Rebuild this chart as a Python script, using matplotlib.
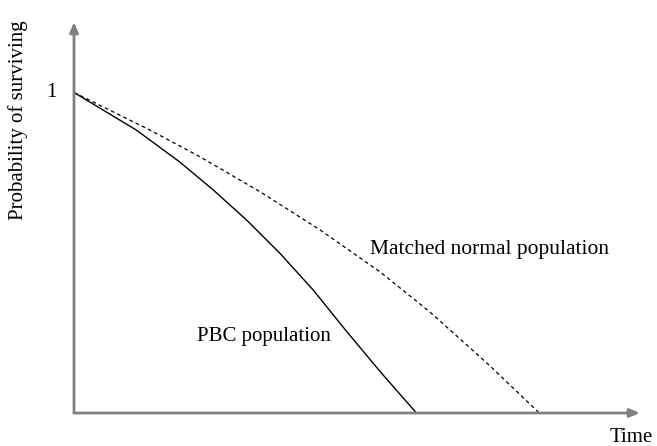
import matplotlib
matplotlib.use("Agg")
import matplotlib.pyplot as plt

plt.rcParams.update({
    'font.family': 'Liberation Serif',
})

# survival curves (time in arbitrary units, prob 0..1)
pbc_time = [0.0, 1.10, 1.87, 2.46, 3.05, 3.64, 4.22, 4.81, 5.41, 6.05]
pbc_prob = [1.0, 0.883, 0.783, 0.696, 0.602, 0.498, 0.385, 0.256, 0.129, 0.0]

normal_time = [0.0, 1.34, 2.23, 3.29, 4.35, 5.41, 6.29, 7.35, 8.22]
normal_prob = [1.0, 0.883, 0.799, 0.690, 0.571, 0.440, 0.315, 0.147, 0.0]

W, H = 657, 446
fig = plt.figure(figsize=(W / 100, H / 100), dpi=100)
# axes box in pixels: x 74..640, y 413 (bottom) .. 22 (top)
ax = fig.add_axes([74 / W, (H - 413) / H, (640 - 74) / W, (413 - 22) / H])
ax.set_xlim(0, 10)
ax.set_ylim(0, 1.22)

for s in ax.spines.values():
    s.set_visible(False)
ax.set_xticks([])
ax.set_yticks([])
ax.patch.set_alpha(0)

axis_col = "#808080"
arrow = dict(arrowstyle="-|>,head_length=0.6,head_width=0.25", color=axis_col, lw=2,
             shrinkA=0, shrinkB=0)
ax.annotate("", xy=(1, 0), xytext=(0, 0), xycoords="axes fraction", arrowprops=arrow)
ax.annotate("", xy=(0, 1), xytext=(0, 0), xycoords="axes fraction", arrowprops=arrow)

ax.plot(pbc_time, pbc_prob, color="black", lw=1.0, clip_on=False)
ax.plot(normal_time, normal_prob, color="black", lw=0.9, ls=(0, (3, 2.5)), clip_on=False)

ax.text(-0.3, 1.0, "1", ha="right", va="center", fontsize=15)
ax.text(2.17, 0.24, "PBC population", ha="left", va="center", fontsize=15)
ax.text(5.23, 0.51, "Matched normal population", ha="left", va="center", fontsize=15.5)

fig.text(631 / W, 1 - 437 / H, "Time", ha="center", va="center", fontsize=15)
fig.text(18 / W, 1 - 120 / H, "Probability of surviving", ha="center", va="center",
         rotation=90, fontsize=15)

fig.savefig("out.png", dpi=100)
